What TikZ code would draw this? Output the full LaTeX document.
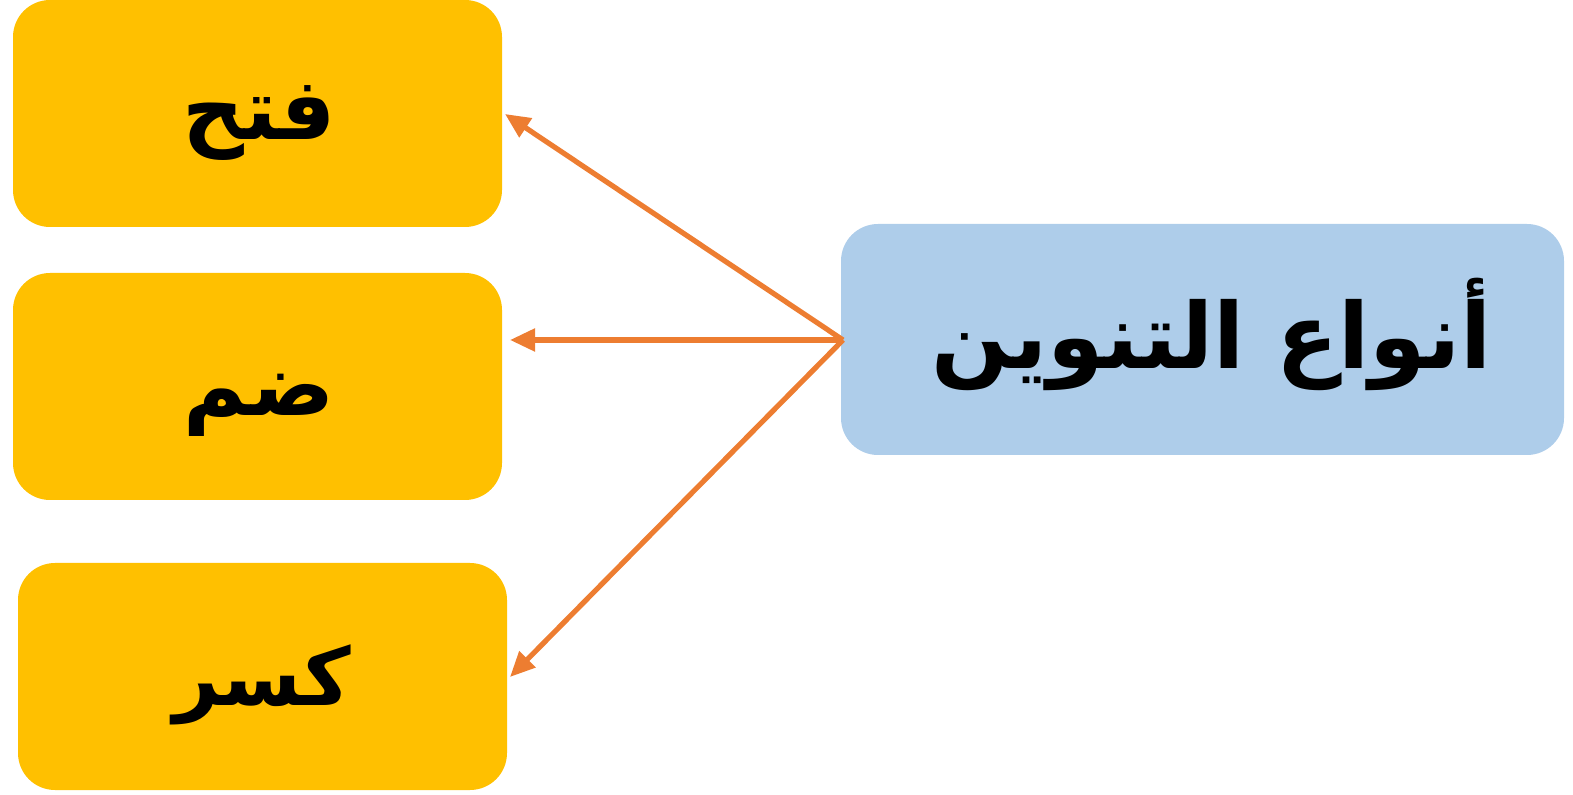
\documentclass[tikz,border=0pt]{standalone}
\usepackage{fontspec}
\TeXXeTstate=1
\newfontfamily\arabicfont[Script=Arabic]{DejaVu Sans}
\usetikzlibrary{arrows.meta}
\definecolor{boxyellow}{HTML}{FFC000}
\definecolor{boxblue}{HTML}{AECDEA}
\definecolor{arrorange}{HTML}{ED7D31}
\begin{document}
\begin{tikzpicture}[x=0.5pt,y=-0.5pt,
  ybox/.style={fill=boxyellow, rounded corners=18.5pt, minimum width=244.5pt, minimum height=113.5pt, inner sep=0pt},
  bbox/.style={fill=boxblue, rounded corners=18.5pt, minimum width=361.5pt, minimum height=115.5pt, inner sep=0pt},
  lbl/.style={font=\arabicfont\bfseries\fontsize{43}{50}\selectfont, inner sep=0pt},
  conn/.style={draw=arrorange, line width=2.6pt, -{Triangle[length=12.5pt,width=11pt]}}]
\useasboundingbox (0,0) rectangle (1573,795);
\node[ybox] (b1) at (257.5,113.5) {};
\node[ybox] (b2) at (257.5,386.5) {};
\node[ybox] (b3) at (262.5,676.5) {};
\node[bbox] (src) at (1202.5,339.5) {};
\node[lbl] (l1) at (259,123) {\beginR فتح\endR};
\node[lbl] (l2) at (259,405) {\beginR ضم\endR};
\node[lbl, font=\arabicfont\bfseries\fontsize{40}{47}\selectfont] (l3) at (262,685) {\beginR كسر\endR};
\node[lbl, font=\arabicfont\bfseries\fontsize{45.5}{52}\selectfont] (l4) at (1212,334) {\beginR أنواع التنوين\endR};
\coordinate (s) at (843,340);
\coordinate (t1) at (505,114);
\coordinate (t2) at (510,340);
\coordinate (t3) at (510,677);
\draw[conn] (s) -- (t1);
\draw[conn] (s) -- (t2);
\draw[conn] (s) -- (t3);
\end{tikzpicture}
\end{document}
